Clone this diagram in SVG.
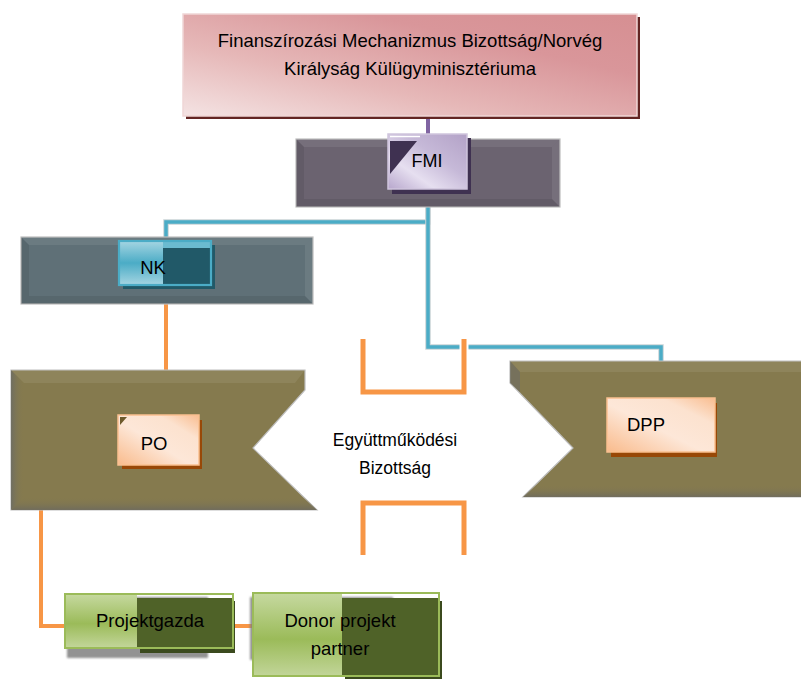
<svg xmlns="http://www.w3.org/2000/svg" width="801" height="679" viewBox="0 0 801 679">
<defs>
<linearGradient id="gTop" x1="0" y1="1" x2="1" y2="0">
<stop offset="0" stop-color="#f4e3e3"/><stop offset="0.35" stop-color="#e6b8b8"/><stop offset="0.7" stop-color="#d9969a"/><stop offset="1" stop-color="#d68f92"/>
</linearGradient>
<linearGradient id="gLav" x1="0" y1="1" x2="1" y2="0">
<stop offset="0" stop-color="#b7a6cc"/><stop offset="0.3" stop-color="#e6dff0"/><stop offset="0.6" stop-color="#c6b9d8"/><stop offset="1" stop-color="#b3a2c7"/>
</linearGradient>
<linearGradient id="gBlue" x1="0" y1="0" x2="0" y2="1">
<stop offset="0" stop-color="#a5d5e2"/><stop offset="0.5" stop-color="#4bacc6"/><stop offset="1" stop-color="#a5d5e2"/>
</linearGradient>
<linearGradient id="gPeach" x1="0" y1="1" x2="1" y2="0">
<stop offset="0" stop-color="#f9bb8c"/><stop offset="0.45" stop-color="#fde7d8"/><stop offset="0.75" stop-color="#fce2cf"/><stop offset="1" stop-color="#f9bd90"/>
</linearGradient>
<linearGradient id="gGreen" x1="0" y1="0" x2="0" y2="1">
<stop offset="0" stop-color="#c6d9a0"/><stop offset="0.55" stop-color="#9bbb59"/><stop offset="1" stop-color="#c3d69b"/>
</linearGradient>
<linearGradient id="gEdgeL" x1="0" y1="0" x2="1" y2="0">
<stop offset="0" stop-color="#6f6e62"/><stop offset="1" stop-color="#857a4e" stop-opacity="0"/>
</linearGradient>
<linearGradient id="gEdgeB" x1="0" y1="0" x2="0" y2="1">
<stop offset="0" stop-color="#857a4e" stop-opacity="0"/><stop offset="1" stop-color="#706c5c"/>
</linearGradient>
<filter id="blur" x="-10%" y="-10%" width="120%" height="120%"><feGaussianBlur stdDeviation="1.2"/></filter>
</defs>
<style>
.txt{font-family:"Liberation Sans","DejaVu Sans",sans-serif;fill:#000;}
.cont{stroke:#bdbdbd;stroke-width:1.2;}
.bevL{fill:#ffffff;opacity:0.08;}
.bevD{fill:#000000;opacity:0.08;}
.blueU{fill:none;stroke:#c9d3d6;stroke-width:5.5;}
.blue{fill:none;stroke:#4bacc6;stroke-width:3.5;}
.orange{fill:none;stroke:#f79646;stroke-width:4;}
.orangeW{fill:none;stroke:#f79646;stroke-width:5;}
</style>

<!-- connectors -->
<g id="connectors">
<line x1="428" y1="115" x2="428" y2="140" stroke="#8064a2" stroke-width="4"/>
<path class="blueU" d="M428,207 V222 H166 V238"/>
<path class="blue" d="M428,207 V222 H166 V238"/>
<path class="blueU" d="M428,207 V347 H661 V362"/>
<path class="blue" d="M428,207 V347 H661 V362"/>
<line x1="166" y1="304" x2="166" y2="371" class="orange"/>
<path class="orange" d="M41,510 V626 H66"/>
<line x1="232" y1="626" x2="253" y2="626" class="orange"/>
</g>

<!-- top node -->
<g id="node-top">
<rect x="186" y="17" width="454" height="102" fill="#632523"/>
<rect x="183" y="14" width="454" height="102" fill="url(#gTop)" stroke="#f0d6d6" stroke-width="1.5"/>
<text class="txt" x="410" y="47" font-size="18.5" text-anchor="middle">Finanszírozási Mechanizmus Bizottság/Norvég</text>
<text class="txt" x="410" y="75" font-size="18.5" text-anchor="middle">Királyság Külügyminisztériuma</text>
</g>

<!-- FMI -->
<g id="node-fmi">
<rect class="cont" x="296" y="139" width="264" height="68" fill="#6b6370"/>
<polygon class="bevL" points="296,139 560,139 552,147 304,147"/>
<polygon class="bevD" points="296,207 560,207 552,199 304,199"/>
<polygon class="bevD" points="296,139 304,147 304,199 296,207"/>
<polygon class="bevL" points="560,139 552,147 552,199 560,207"/>
<rect x="392" y="138" width="79" height="56" fill="#3f3151"/>
<rect x="388" y="134" width="79" height="55" fill="url(#gLav)" stroke="#cfc5dd" stroke-width="1.5"/>
<polygon points="390,141 417,141 390,174" fill="#3f3151"/>
<line x1="390" y1="136.5" x2="420" y2="136.5" stroke="#ffffff" stroke-width="1.5"/>
<text class="txt" x="427" y="167" font-size="18" text-anchor="middle">FMI</text>
</g>

<!-- NK -->
<g id="node-nk">
<rect class="cont" x="21" y="237" width="292" height="67" fill="#5f7077"/>
<polygon class="bevL" points="21,237 313,237 305,245 29,245"/>
<polygon class="bevD" points="21,304 313,304 305,296 29,296"/>
<polygon class="bevD" points="21,237 29,245 29,296 21,304"/>
<polygon class="bevL" points="313,237 305,245 305,296 313,304"/>
<rect x="123" y="245" width="92" height="44" fill="#215968"/>
<rect x="119" y="241" width="92" height="44" fill="url(#gBlue)"/>
<rect x="163" y="242" width="47" height="6" fill="#6bbbd0"/>
<rect x="163" y="248" width="47" height="36" fill="#215968"/>
<rect x="119" y="241" width="92" height="44" fill="none" stroke="#4bacc6" stroke-width="2.2"/>
<text class="txt" x="153" y="274" font-size="18.5" text-anchor="middle">NK</text>
</g>

<!-- PO -->
<g id="node-po">
<polygon class="cont" points="11,370 305,370 305,390 253,448 317,510 11,510" fill="#857a4e"/>
<polygon points="11,370 24,383 24,497 11,510" fill="url(#gEdgeL)"/>
<polygon points="11,510 24,497 304,497 317,510" fill="url(#gEdgeB)"/>
<polygon class="bevL" points="11,370 305,370 295,383 24,383"/>
<rect x="122" y="420" width="80" height="49" fill="#984807"/>
<rect x="118" y="415" width="81" height="50" fill="url(#gPeach)" stroke="#fac090" stroke-width="1.5"/>
<polygon points="120,417 127,417 120,425" fill="#6e5a2c"/>
<text class="txt" x="154" y="450" font-size="18.5" text-anchor="middle">PO</text>
</g>

<!-- DPP -->
<g id="node-dpp">
<polygon class="cont" points="510,361 802,361 802,497 523,497 573,448 510,383" fill="#857a4e"/>
<polygon class="bevL" points="510,361 802,361 802,372 520,372"/>
<polygon points="523,497 535,485 802,485 802,497" fill="url(#gEdgeB)"/>
<polygon points="510,361 520,372 520,392 510,383" fill="#6f6e62" opacity="0.7"/>
<rect x="611" y="403" width="106" height="54" fill="#984807"/>
<rect x="607" y="398" width="108" height="54" fill="url(#gPeach)" stroke="#fac090" stroke-width="1.5"/>
<text class="txt" x="646" y="431" font-size="18.5" text-anchor="middle">DPP</text>
</g>

<!-- Egyuttmukodesi Bizottsag -->
<g id="node-eb">
<path d="M363,339 V392 H464 V339" fill="none" stroke="#ffffff" stroke-width="9"/>
<path class="orangeW" d="M363,339 V392 H464 V339"/>
<path class="orangeW" d="M363,555 V503 H464 V555"/>
<text class="txt" x="395" y="446" font-size="17.5" text-anchor="middle">Együttműködési</text>
<text class="txt" x="395" y="474" font-size="17.5" text-anchor="middle">Bizottság</text>
</g>

<!-- Projektgazda -->
<g id="node-projektgazda">
<rect x="67" y="597" width="141" height="61" fill="#7f7f7f" opacity="0.85" filter="url(#blur)"/>
<rect x="65" y="594" width="72" height="54" fill="url(#gGreen)"/>
<rect x="140" y="601" width="95" height="52" fill="#3b4a1e"/>
<rect x="137" y="598" width="96" height="50" fill="#4f6228"/>
<rect x="65" y="594" width="168" height="54" fill="none" stroke="#9bbb59" stroke-width="2"/>
<text class="txt" x="150" y="627" font-size="18.5" text-anchor="middle">Projektgazda</text>
</g>

<!-- Donor projekt partner -->
<g id="node-donor">
<rect x="250" y="597" width="143" height="63" fill="#7f7f7f" opacity="0.85" filter="url(#blur)"/>
<rect x="253" y="593" width="89" height="84" fill="url(#gGreen)"/>
<rect x="345" y="601" width="97" height="78" fill="#3b4a1e"/>
<rect x="342" y="598" width="97" height="78" fill="#4f6228"/>
<rect x="253" y="593" width="186" height="83" fill="none" stroke="#9bbb59" stroke-width="2"/>
<text class="txt" x="340" y="627" font-size="18.5" text-anchor="middle">Donor projekt</text>
<text class="txt" x="340" y="655" font-size="18.5" text-anchor="middle">partner</text>
</g>
</svg>
